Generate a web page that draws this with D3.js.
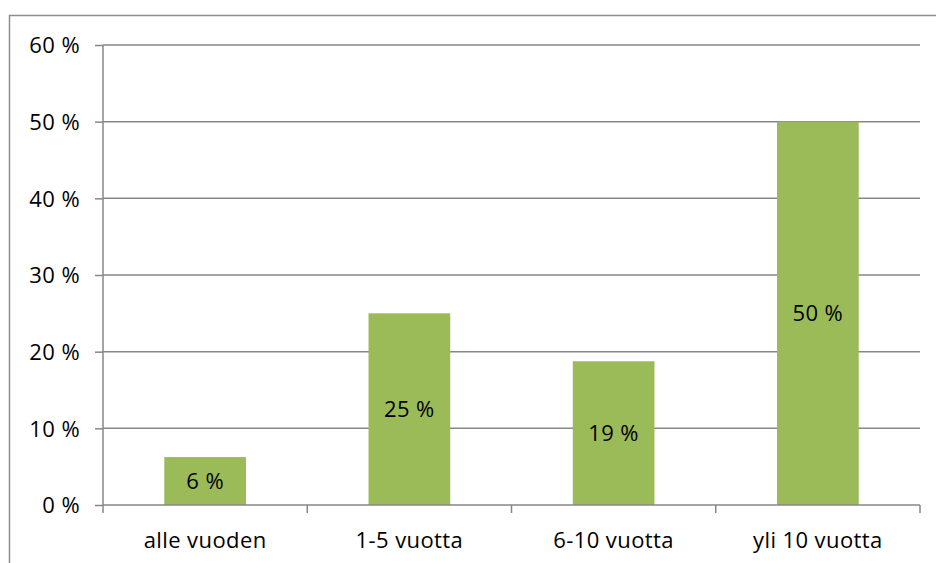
<!DOCTYPE html>
<html>
<head>
<meta charset="utf-8">
<script src="https://cdn.jsdelivr.net/npm/d3@7"></script>
<style>
  body { margin: 0; background: #fff; }
  text { font-family: "Open Sans", Lato, sans-serif; fill: #000; letter-spacing: 0.4px; }
</style>
</head>
<body>
<div id="root"></div>
<script>
var categories = ["alle vuoden", "1-5 vuotta", "6-10 vuotta", "yli 10 vuotta"];
var values = [6.25, 25, 18.75, 50];
var valueLabels = ["6 %", "25 %", "19 %", "50 %"];
var yTicks = [0, 10, 20, 30, 40, 50, 60];

var svg = d3.select("#root").append("svg")
    .attr("width", 936)
    .attr("height", 563);

// outer chart border (runs off the right and bottom edge)
svg.append("rect")
    .attr("x", 9.5).attr("y", 15.5)
    .attr("width", 940).attr("height", 560)
    .attr("fill", "none")
    .attr("stroke", "#8e8e8e")
    .attr("stroke-width", 1.5);

var plotL = 103, plotR = 920, plotT = 45, plotB = 505;
var fontSize = "22px";

var x = d3.scaleBand()
    .domain(categories)
    .range([plotL, plotR])
    .paddingInner(0.6)
    .paddingOuter(0.3);

var y = d3.scaleLinear()
    .domain([0, 60])
    .range([plotB, plotT]);

// gridlines
svg.append("g")
    .selectAll("line")
    .data(yTicks.filter(function(d) { return d > 0; }))
    .enter().append("line")
    .attr("x1", plotL).attr("x2", plotR)
    .attr("y1", function(d) { return y(d); })
    .attr("y2", function(d) { return y(d); })
    .attr("stroke", "#878787")
    .attr("stroke-width", 1.5);

// y axis
var yAxis = svg.append("g")
    .attr("transform", "translate(" + plotL + ",0)")
    .call(d3.axisLeft(y).tickValues(yTicks).tickSize(8).tickPadding(15)
        .tickFormat(function(d) { return d + " %"; }));
yAxis.attr("font-family", null).attr("font-size", null);
yAxis.selectAll("path, line").attr("stroke", "#878787").attr("stroke-width", 1.5);
yAxis.select(".domain").attr("d", "M0," + plotT + "V" + plotB);
yAxis.selectAll("text").style("font-size", fontSize).attr("dy", "0.35em");

// bars
svg.append("g")
    .selectAll("rect")
    .data(values)
    .enter().append("rect")
    .attr("x", function(d, i) { return x(categories[i]); })
    .attr("width", x.bandwidth())
    .attr("y", function(d) { return y(d); })
    .attr("height", function(d) { return plotB - y(d); })
    .attr("fill", "#9bbb59");

// x axis with ticks between categories
var xg = svg.append("g");
xg.append("line")
    .attr("x1", plotL).attr("x2", plotR)
    .attr("y1", plotB).attr("y2", plotB)
    .attr("stroke", "#878787").attr("stroke-width", 1.5);
xg.selectAll("line.tick")
    .data(d3.range(categories.length + 1))
    .enter().append("line")
    .attr("class", "tick")
    .attr("x1", function(i) { return plotL + i * x.step(); })
    .attr("x2", function(i) { return plotL + i * x.step(); })
    .attr("y1", plotB).attr("y2", plotB + 8)
    .attr("stroke", "#878787").attr("stroke-width", 1.5);
xg.selectAll("text")
    .data(categories)
    .enter().append("text")
    .attr("x", function(d) { return x(d) + x.bandwidth() / 2; })
    .attr("y", 548)
    .attr("text-anchor", "middle")
    .style("font-size", fontSize)
    .text(function(d) { return d; });

// value labels in the middle of each bar
svg.append("g")
    .selectAll("text")
    .data(values)
    .enter().append("text")
    .attr("x", function(d, i) { return x(categories[i]) + x.bandwidth() / 2; })
    .attr("y", function(d) { return (y(d) + plotB) / 2; })
    .attr("dy", "0.35em")
    .attr("text-anchor", "middle")
    .style("font-size", fontSize)
    .text(function(d, i) { return valueLabels[i]; });
</script>
</body>
</html>
